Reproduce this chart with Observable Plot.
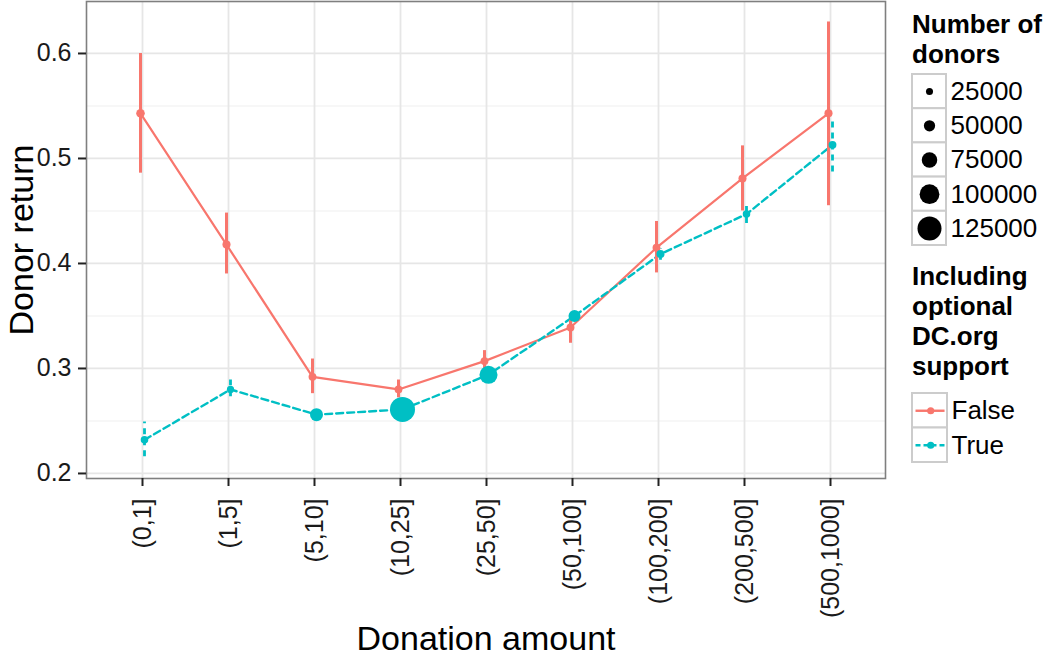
<!DOCTYPE html>
<html>
<head>
<meta charset="utf-8">
<script src="https://cdn.jsdelivr.net/npm/d3@7"></script>
<script src="https://cdn.jsdelivr.net/npm/@observablehq/plot@0.6"></script>
<style>
  html, body { margin: 0; padding: 0; background: #ffffff; }
  #wrap { position: relative; width: 1050px; height: 656px; overflow: hidden; font-family: "Liberation Sans", Arial, Helvetica, sans-serif; color: #000; }
  .abs { position: absolute; }
  .ltitle { font-weight: bold; font-size: 26px; line-height: 30px; }
</style>
</head>
<body>
<div id="wrap">
  <div id="main" class="abs" style="left:0;top:0"></div>
  <div class="abs ltitle" style="left:912px;top:9px">Number of<br>donors</div>
  <div id="sizeLegend" class="abs" style="left:911px;top:73px"></div>
  <div class="abs ltitle" style="left:912px;top:261px">Including<br>optional<br>DC.org<br>support</div>
  <div id="colorLegend" class="abs" style="left:911px;top:392px"></div>
</div>
<script>
// ---- data ----
const categories = ["(0,1]", "(1,5]", "(5,10]", "(10,25]", "(25,50]", "(50,100]", "(100,200]", "(200,500]", "(500,1000]"];

const returnFalse = [0.543, 0.418, 0.292, 0.280, 0.307, 0.339, 0.415, 0.481, 0.543];
const lowFalse    = [0.486, 0.390, 0.276, 0.272, 0.297, 0.324, 0.391, 0.450, 0.455];
const highFalse   = [0.600, 0.448, 0.309, 0.289, 0.317, 0.346, 0.440, 0.512, 0.630];
const donorsFalse = [34000, 31000, 30000, 29000, 30000, 30000, 30000, 31000, 31000];

const returnTrue = [0.232, 0.280, 0.256, 0.261, 0.294, 0.350, 0.409, 0.447, 0.513];
const lowTrue    = [0.216, 0.273, 0.252, 0.257, 0.290, 0.346, 0.403, 0.438, 0.487];
const highTrue   = [0.249, 0.289, 0.260, 0.265, 0.298, 0.354, 0.414, 0.457, 0.539];
const donorsTrue = [28000, 26000, 60000, 131000, 90000, 54000, 31000, 28000, 30000];

const sizeLevels = [25000, 50000, 75000, 100000, 125000];
const seriesLabels = ["False", "True"];
const yMajorTicks = [0.2, 0.3, 0.4, 0.5, 0.6];
const yMinorTicks = [0.25, 0.35, 0.45, 0.55];

const colFalse = "#F8766D";
const colTrue = "#00BFC4";
const fontFamily = "'Liberation Sans', Arial, Helvetica, sans-serif";
const rScale = {type: "linear", domain: [0, 125000], range: [1.4, 12]};

const rows = (ret, lo, hi, n) => categories.map((c, i) => ({cat: c, ret: ret[i], lo: lo[i], hi: hi[i], n: n[i]}));
const dataFalse = rows(returnFalse, lowFalse, highFalse, donorsFalse);
const dataTrue = rows(returnTrue, lowTrue, highTrue, donorsTrue);

const main = Plot.plot({
  width: 905,
  height: 656,
  marginLeft: 86,
  marginRight: 20,
  marginTop: 1,
  marginBottom: 178,
  style: {fontFamily, background: "white", color: "#1a1a1a"},
  x: {type: "point", domain: categories, padding: 0.6},
  y: {domain: [0.1952, 0.6495]},
  r: rScale,
  marks: [
    Plot.gridY(yMinorTicks, {stroke: "#f5f5f5", strokeOpacity: 1, strokeWidth: 1.5}),
    Plot.gridY(yMajorTicks, {stroke: "#e6e6e6", strokeOpacity: 1, strokeWidth: 1.8}),
    Plot.gridX(categories, {stroke: "#e6e6e6", strokeOpacity: 1, strokeWidth: 1.8}),
    Plot.line(dataFalse, {x: "cat", y: "ret", stroke: colFalse, strokeWidth: 2.2, dx: -2}),
    Plot.line(dataTrue, {x: "cat", y: "ret", stroke: colTrue, strokeWidth: 2.4, strokeDasharray: "7,4", dx: 2}),
    Plot.ruleX(dataFalse, {x: "cat", y1: "lo", y2: "hi", stroke: colFalse, strokeWidth: 3, dx: -2}),
    Plot.ruleX(dataTrue, {x: "cat", y1: "lo", y2: "hi", stroke: colTrue, strokeWidth: 2.8, strokeDasharray: "6,5", dx: 2}),
    Plot.dot(dataFalse, {x: "cat", y: "ret", r: "n", fill: colFalse, dx: -2}),
    Plot.dot(dataTrue, {x: "cat", y: "ret", r: "n", fill: colTrue, dx: 2}),
    Plot.frame({stroke: "#7f7f7f", strokeWidth: 1.6}),
    Plot.axisY(yMajorTicks, {tickSize: 8, tickPadding: 7, fontSize: 25, strokeWidth: 2, stroke: "#222", tickFormat: d3.format(".1f"), label: null}),
    Plot.axisX({tickSize: 8, tickPadding: 12, fontSize: 25, strokeWidth: 2, stroke: "#222", tickRotate: -90, label: null}),
    Plot.text(["Donation amount"], {frameAnchor: "bottom", dy: 161, lineAnchor: "middle", textAnchor: "middle", fontSize: 34, fill: "#000"}),
    Plot.text(["Donor return"], {frameAnchor: "left", dx: -64, rotate: -90, textAnchor: "middle", lineAnchor: "middle", fontSize: 34, fill: "#000"})
  ]
});
document.getElementById("main").appendChild(main);

const sizeLegend = Plot.plot({
  width: 139,
  height: 174,
  margin: 0,
  style: {fontFamily, background: "transparent", color: "#000", overflow: "visible"},
  x: {domain: [0, 1], range: [1, 35], axis: null},
  y: {domain: [0, sizeLevels.length], range: [1, 172], axis: null},
  r: rScale,
  marks: [
    Plot.rect(sizeLevels, {x1: 0, x2: 1, y1: (d, i) => i, y2: (d, i) => i + 1, fill: "white", stroke: "#cccccc", strokeWidth: 2}),
    Plot.dot(sizeLevels, {x: 0.5, y: (d, i) => i + 0.5, r: d => d, fill: "black"}),
    Plot.text(sizeLevels, {x: 1, y: (d, i) => i + 0.5, text: d => String(d), textAnchor: "start", dx: 4, fontSize: 26, fill: "#000"})
  ]
});
document.getElementById("sizeLegend").appendChild(sizeLegend);

const colorLegend = Plot.plot({
  width: 139,
  height: 72,
  margin: 0,
  style: {fontFamily, background: "transparent", color: "#000", overflow: "visible"},
  x: {domain: [0, 1], range: [1, 36], axis: null},
  y: {domain: [0, seriesLabels.length], range: [1, 70], axis: null},
  marks: [
    Plot.rect(seriesLabels, {x1: 0, x2: 1, y1: (d, i) => i, y2: (d, i) => i + 1, fill: "white", stroke: "#cccccc", strokeWidth: 2}),
    Plot.ruleY([seriesLabels[0]], {y: 0.5, x1: 0.1, x2: 0.93, stroke: colFalse, strokeWidth: 2.4}),
    Plot.ruleY([seriesLabels[1]], {y: 1.5, x1: 0.1, x2: 0.93, stroke: colTrue, strokeWidth: 2.4, strokeDasharray: "5,3"}),
    Plot.dot([seriesLabels[0]], {x: 0.52, y: 0.5, r: 3.6, fill: colFalse}),
    Plot.dot([seriesLabels[1]], {x: 0.52, y: 1.5, r: 3.6, fill: colTrue}),
    Plot.text(seriesLabels, {x: 1, y: (d, i) => i + 0.5, text: d => d, textAnchor: "start", dx: 4, fontSize: 26, fill: "#000"})
  ]
});
document.getElementById("colorLegend").appendChild(colorLegend);
</script>
</body>
</html>
